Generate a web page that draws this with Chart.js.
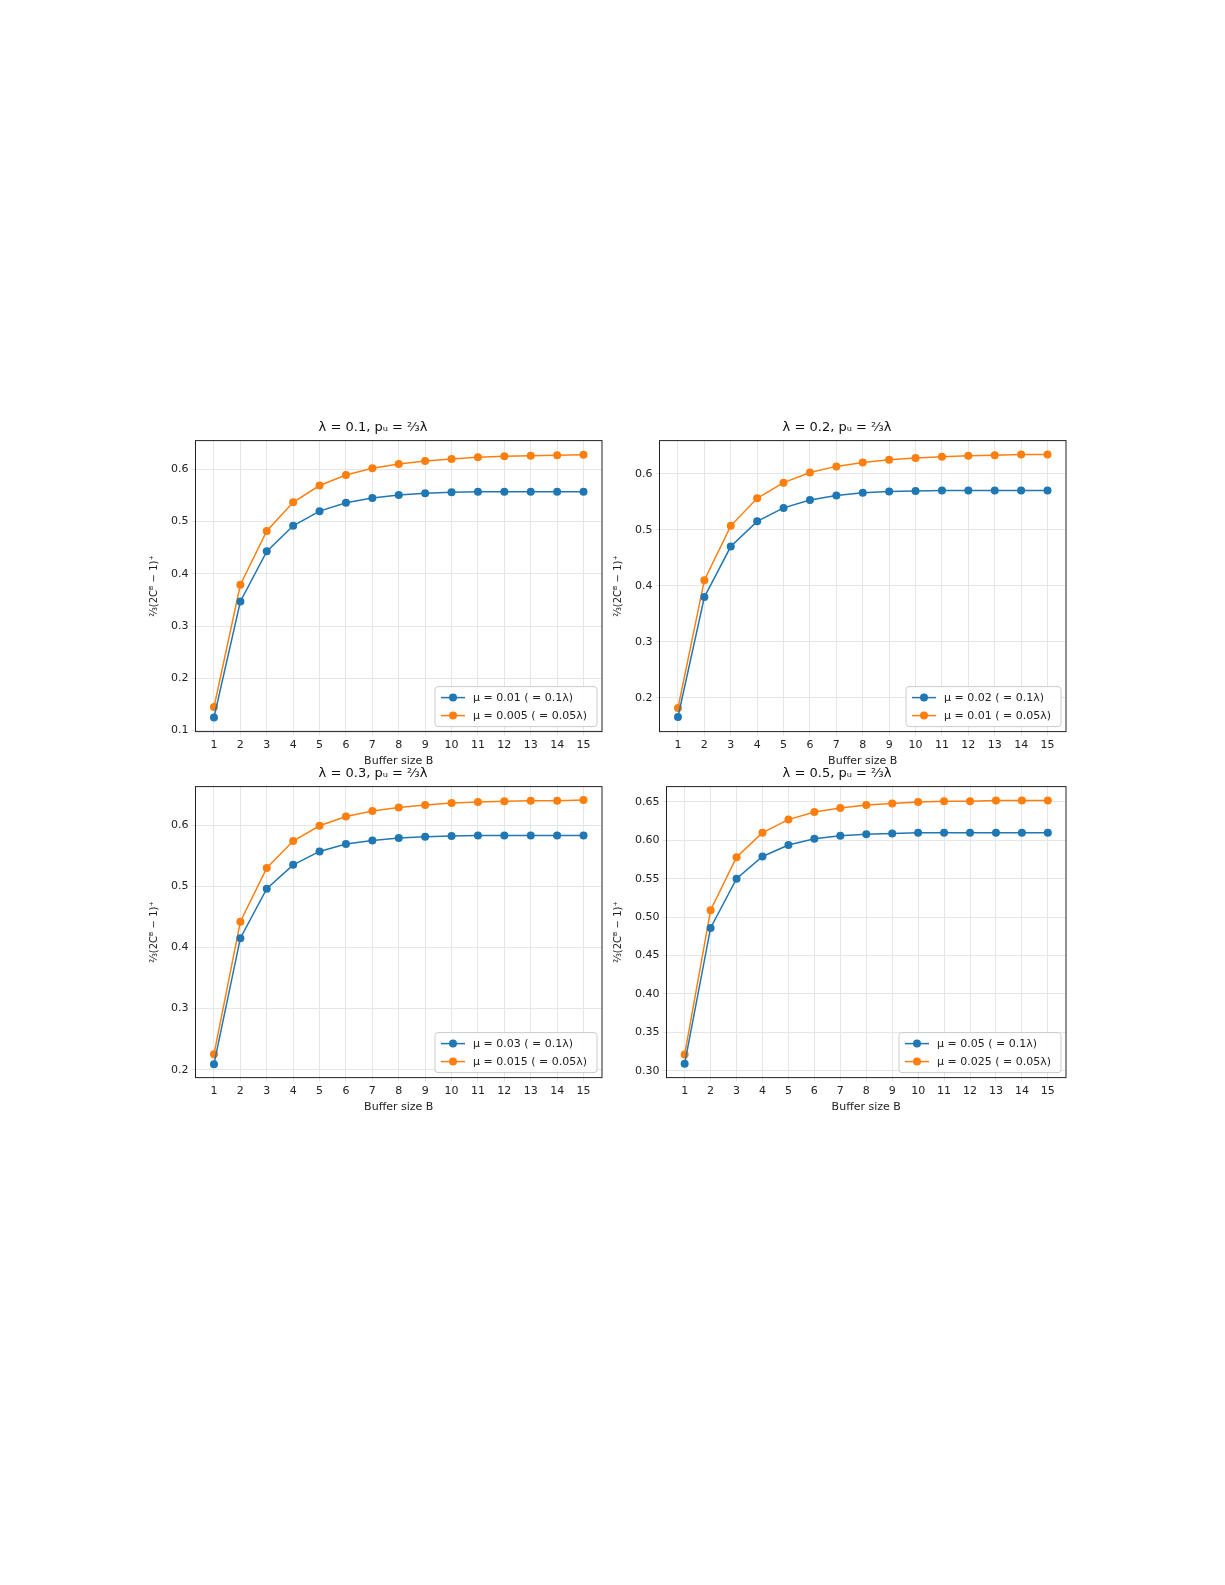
<!DOCTYPE html>
<html><head><meta charset="utf-8">
<script src="https://cdn.jsdelivr.net/npm/chart.js@4.4.0/dist/chart.umd.min.js"></script>
<style>
body{margin:0;background:#fff;width:1225px;height:1585px;position:relative;font-family:"DejaVu Sans";}
.p{position:absolute;width:470px;height:352px;}
</style></head><body>
<div class="p" style="left:140px;top:416px"><canvas id="c0"></canvas></div>
<div class="p" style="left:604px;top:416px"><canvas id="c1"></canvas></div>
<div class="p" style="left:140px;top:762px"><canvas id="c2"></canvas></div>
<div class="p" style="left:604px;top:762px"><canvas id="c3"></canvas></div>
<script>
const bufferSizes = [1,2,3,4,5,6,7,8,9,10,11,12,13,14,15];
const titles = ["λ = 0.1, pᵤ = ⅔λ","λ = 0.2, pᵤ = ⅔λ","λ = 0.3, pᵤ = ⅔λ","λ = 0.5, pᵤ = ⅔λ"];
const blueLabels = ["μ = 0.01 ( = 0.1λ)","μ = 0.02 ( = 0.1λ)","μ = 0.03 ( = 0.1λ)","μ = 0.05 ( = 0.1λ)"];
const orangeLabels = ["μ = 0.005 ( = 0.05λ)","μ = 0.01 ( = 0.05λ)","μ = 0.015 ( = 0.05λ)","μ = 0.025 ( = 0.05λ)"];
const blue1 = [0.125,0.347,0.443,0.492,0.520,0.536,0.545,0.551,0.554,0.556,0.557,0.557,0.557,0.557,0.557];
const orange1 = [0.145,0.379,0.482,0.537,0.569,0.589,0.602,0.610,0.616,0.620,0.623,0.625,0.626,0.627,0.628];
const blue2 = [0.166,0.380,0.470,0.515,0.539,0.553,0.561,0.566,0.568,0.569,0.570,0.570,0.570,0.570,0.570];
const orange2 = [0.182,0.410,0.507,0.556,0.584,0.602,0.613,0.620,0.625,0.628,0.630,0.632,0.633,0.634,0.634];
const blue3 = [0.209,0.415,0.496,0.535,0.557,0.569,0.575,0.579,0.581,0.582,0.583,0.583,0.583,0.583,0.583];
const orange3 = [0.225,0.442,0.530,0.574,0.599,0.614,0.623,0.629,0.633,0.636,0.638,0.639,0.640,0.640,0.641];
const blue4 = [0.309,0.486,0.550,0.579,0.594,0.602,0.606,0.608,0.609,0.610,0.610,0.610,0.610,0.610,0.610];
const orange4 = [0.321,0.509,0.578,0.610,0.627,0.637,0.642,0.646,0.648,0.650,0.651,0.651,0.652,0.652,0.652];
const yRanges = [[0.098,0.655,0.1],[0.14,0.659,0.1],[0.187,0.663,0.1],[0.291,0.67,0.05]];
const blues=[blue1,blue2,blue3,blue4], oranges=[orange1,orange2,orange3,orange4];
const BLUE='#1f77b4', ORANGE='#ff7f0e';

const legendPlugin={id:'inLegend',afterDatasetsDraw(ch){
  const c=ch.ctx,a=ch.chartArea;
  const ds=ch.data.datasets;
  c.save();c.font='11px "DejaVu Sans"';
  const w=Math.max(...ds.map(d=>c.measureText(d.label).width))+48;
  const h=40;const x=a.right-w-5,y=a.bottom-h-5;
  c.fillStyle='rgba(255,255,255,0.85)';c.strokeStyle='#ccc';c.lineWidth=1;
  c.beginPath();c.roundRect(x,y,w,h,3);c.fill();c.stroke();
  ds.forEach((d,i)=>{const yy=y+11+i*18;
    c.strokeStyle=d.borderColor;c.lineWidth=1.5;c.beginPath();c.moveTo(x+6,yy);c.lineTo(x+30,yy);c.stroke();
    c.fillStyle=d.borderColor;c.beginPath();c.arc(x+18,yy,4,0,7);c.fill();
    c.fillStyle='#222';c.textBaseline='middle';c.fillText(d.label,x+38,yy+1);});
  c.restore();}};
const framePlugin={id:'frame',afterDraw(ch){const c=ch.ctx,a=ch.chartArea;c.save();c.strokeStyle='#222';c.lineWidth=1;c.strokeRect(a.left,a.top,a.right-a.left,a.bottom-a.top);c.restore();}};

for(let k=0;k<4;k++){
  const [mn,mx,st]=yRanges[k];
  new Chart(document.getElementById('c'+k),{type:'line',
    data:{datasets:[
      {label:blueLabels[k],data:bufferSizes.map((b,i)=>({x:b,y:blues[k][i]})),borderColor:BLUE,backgroundColor:BLUE,borderWidth:1.5,pointRadius:4,pointBackgroundColor:BLUE,pointBorderWidth:0},
      {label:orangeLabels[k],data:bufferSizes.map((b,i)=>({x:b,y:oranges[k][i]})),borderColor:ORANGE,backgroundColor:ORANGE,borderWidth:1.5,pointRadius:4,pointBackgroundColor:ORANGE,pointBorderWidth:0}]},
    options:{responsive:true,maintainAspectRatio:false,animation:false,
      layout:{padding:{left:4,right:8,top:0,bottom:0}},
      plugins:{legend:{display:false},tooltip:{enabled:false},
        title:{display:true,text:titles[k],color:'#111',font:{size:13,family:'DejaVu Sans',weight:'normal'},padding:{top:4,bottom:5}}},
      scales:{
        x:{type:'linear',min:0.3,max:15.7,
          afterBuildTicks:s=>{s.ticks=bufferSizes.map(v=>({value:v}));},
          ticks:{color:'#222',font:{size:11,family:'DejaVu Sans'},maxRotation:0,autoSkip:false},
          grid:{color:'#e6e6e6',tickLength:4},border:{display:false},
          title:{display:true,text:'Buffer size B',color:'#222',font:{size:11,family:'DejaVu Sans'},padding:{top:0,bottom:0}}},
        y:{min:mn,max:mx,
          afterBuildTicks:s=>{const t=[];for(let v=Math.ceil(mn/st-1e-9)*st;v<=mx+1e-9;v+=st)t.push({value:+v.toFixed(3)});s.ticks=t;},
          ticks:{color:'#222',font:{size:11,family:'DejaVu Sans'},callback:v=>st<0.1?v.toFixed(2):v.toFixed(1)},
          grid:{color:'#e6e6e6',tickLength:4},border:{display:false},
          title:{display:true,text:'⅔(2Cᴮ − 1)⁺',color:'#222',font:{size:10,family:'DejaVu Sans'},padding:{bottom:8}}}}},
    plugins:[legendPlugin,framePlugin]});
}
</script></body></html>
